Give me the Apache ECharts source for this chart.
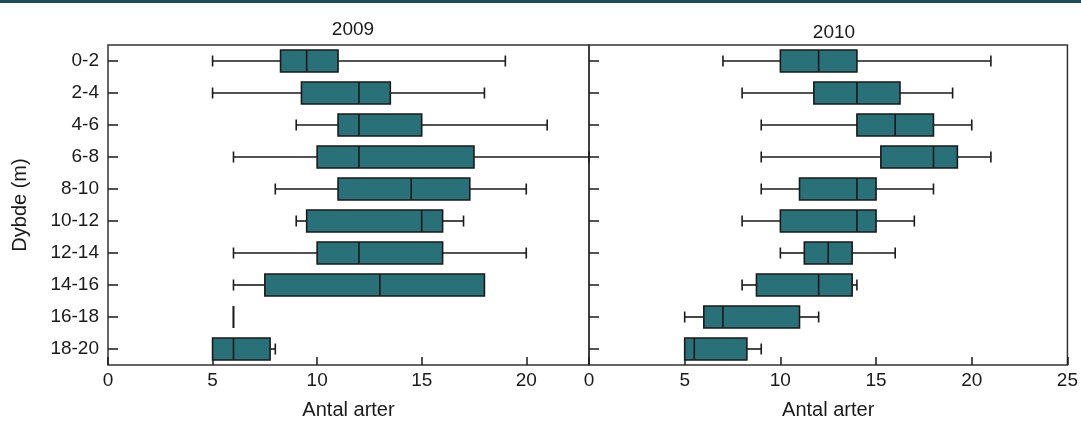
<!DOCTYPE html>
<html>
<head>
<meta charset="utf-8">
<script src="https://cdn.jsdelivr.net/npm/echarts@6/dist/echarts.min.js"></script>
<style>
html,body{margin:0;padding:0;background:#fff;}
#c{width:1081px;height:425px;}
</style>
</head>
<body>
<div id="c"></div>
<script>
const categories = ['0-2','2-4','4-6','6-8','8-10','10-12','12-14','14-16','16-18','18-20'];
const years = ['2009','2010'];
const xTicks2009 = [0, 23, 5];
const xTicks2010 = [0, 25, 5];

const min2009 = [5, 5, 9, 6, 8, 9, 6, 6, 6, 5];
const q1_2009 = [8.25, 9.25, 11, 10, 11, 9.5, 10, 7.5, 6, 5];
const med2009 = [9.5, 12, 12, 12, 14.5, 15, 12, 13, 6, 6];
const q3_2009 = [11, 13.5, 15, 17.5, 17.3, 16, 16, 18, 6, 7.75];
const max2009 = [19, 18, 21, 23, 20, 17, 20, 18, 6, 8];

const min2010 = [7, 8, 9, 9, 9, 8, 10, 8, 5, 5];
const q1_2010 = [10, 11.75, 14, 15.25, 11, 10, 11.25, 8.75, 6, 5];
const med2010 = [12, 14, 16, 18, 14, 14, 12.5, 12, 7, 5.5];
const q3_2010 = [14, 16.25, 18, 19.25, 15, 15, 13.75, 13.75, 11, 8.25];
const max2010 = [21, 19, 20, 21, 18, 17, 16, 14, 12, 9];

const FILL = '#2a7079';
const LINE = '#1a1a1a';
const TXT = '#1a1a1a';
const FONT = "'Liberation Sans', Arial, sans-serif";

function rows(mn, q1, md, q3, mx) {
  return categories.map((c, i) => [i, mn[i], q1[i], md[i], q3[i], mx[i]]);
}

function renderBox(params, api) {
  const y = api.value(0);
  const v = [1, 2, 3, 4, 5].map(i => api.value(i));
  const p = v.map(val => api.coord([val, y]));
  const cy = p[0][1];
  const h = 11, cap = 5.5;
  const ls = { stroke: LINE, lineWidth: 1.6 };
  const ch = [];
  if (v[0] < v[1]) {
    ch.push({ type: 'line', shape: { x1: p[0][0], y1: cy, x2: p[1][0], y2: cy }, style: ls });
    ch.push({ type: 'line', shape: { x1: p[0][0], y1: cy - cap, x2: p[0][0], y2: cy + cap }, style: ls });
  }
  if (v[4] > v[3]) {
    ch.push({ type: 'line', shape: { x1: p[3][0], y1: cy, x2: p[4][0], y2: cy }, style: ls });
    ch.push({ type: 'line', shape: { x1: p[4][0], y1: cy - cap, x2: p[4][0], y2: cy + cap }, style: ls });
  }
  ch.push({ type: 'rect', shape: { x: p[1][0], y: cy - h, width: p[3][0] - p[1][0], height: 2 * h },
            style: { fill: FILL, stroke: LINE, lineWidth: 1.6 } });
  ch.push({ type: 'line', shape: { x1: p[2][0], y1: cy - h, x2: p[2][0], y2: cy + h }, style: ls });
  return { type: 'group', children: ch };
}

function xAxis(gi, t, showMax) {
  return {
    type: 'value', gridIndex: gi, min: t[0], max: t[1], interval: t[2],
    axisLine: { show: false },
    axisTick: { show: true, inside: true, length: 8, lineStyle: { color: LINE, width: 1.5 } },
    axisLabel: { color: TXT, fontSize: 19, fontFamily: FONT, margin: 6, showMaxLabel: showMax, showMinLabel: true },
    splitLine: { show: false },
    name: 'Antal arter', nameLocation: 'middle', nameGap: 35,
    nameTextStyle: { color: TXT, fontSize: 20, fontFamily: FONT }
  };
}

function yAxis(gi, showLabels) {
  const a = {
    type: 'category', gridIndex: gi, data: categories, inverse: true,
    axisLine: { show: false },
    axisTick: { show: true, inside: true, length: 10, alignWithLabel: true, lineStyle: { color: LINE, width: 1.5 } },
    axisLabel: { show: showLabels, color: TXT, fontSize: 19, fontFamily: FONT, margin: 9 },
    splitLine: { show: false }
  };
  if (showLabels) {
    a.name = 'Dybde (m)';
    a.nameLocation = 'middle';
    a.nameGap = 78;
    a.nameTextStyle = { color: TXT, fontSize: 20, fontFamily: FONT };
  }
  return a;
}

const chart = echarts.init(document.getElementById('c'), null, { renderer: 'canvas' });
chart.setOption({
  animation: false,
  backgroundColor: '#fff',
  graphic: [{ type: 'rect', left: 0, top: 0, shape: { width: 1081, height: 3 }, style: { fill: '#1d4e57' } }],
  title: [
    { text: years[0], left: 348, top: 15, textAlign: 'center', textStyle: { color: TXT, fontSize: 19, fontWeight: 'normal', fontFamily: FONT } },
    { text: years[1], left: 829, top: 18, textAlign: 'center', textStyle: { color: TXT, fontSize: 19, fontWeight: 'normal', fontFamily: FONT } }
  ],
  grid: [
    { left: 108, top: 45, width: 481, height: 322, show: true, borderColor: '#333', borderWidth: 1.5, backgroundColor: 'transparent' },
    { left: 589, top: 45, width: 480, height: 322, show: true, borderColor: '#333', borderWidth: 1.5, backgroundColor: 'transparent' }
  ],
  xAxis: [xAxis(0, xTicks2009, false), xAxis(1, xTicks2010, true)],
  yAxis: [yAxis(0, true), yAxis(1, false)],
  series: [
    { type: 'custom', xAxisIndex: 0, yAxisIndex: 0, renderItem: renderBox,
      encode: { x: [1, 2, 3, 4, 5], y: 0 }, data: rows(min2009, q1_2009, med2009, q3_2009, max2009) },
    { type: 'custom', xAxisIndex: 1, yAxisIndex: 1, renderItem: renderBox,
      encode: { x: [1, 2, 3, 4, 5], y: 0 }, data: rows(min2010, q1_2010, med2010, q3_2010, max2010) }
  ]
});
</script>
</body>
</html>
